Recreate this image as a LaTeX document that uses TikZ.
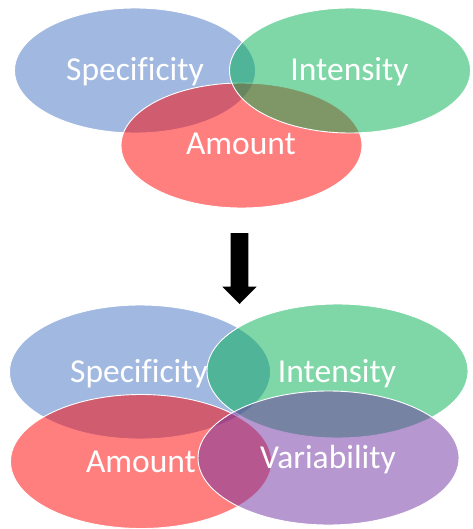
\documentclass[tikz,border=0pt]{standalone}
\usepackage{fontspec}
\setmainfont{Carlito}[Ligatures=NoCommon]
\usetikzlibrary{shapes.geometric,arrows.meta}
\definecolor{cblue}{HTML}{4472C4}
\definecolor{cgreen}{HTML}{00B050}
\definecolor{cred}{HTML}{FF0000}
\definecolor{cpurple}{HTML}{7030A0}
\tikzset{
  blob/.style={ellipse, inner sep=0pt, fill=#1, fill opacity=0.5, draw=white, draw opacity=1, line width=0.9pt},
  topblob/.style={minimum width=241pt, minimum height=125pt},
  botblob/.style={minimum width=261pt, minimum height=134pt},
  lbl/.style={text=white, font=\fontsize{33.5}{40}\selectfont, inner sep=0pt, anchor=base}
}
\begin{document}
\begin{tikzpicture}[x=1pt,y=-1pt]
\useasboundingbox (0,0) rectangle (472,529);
% top group
\node[blob=cblue, topblob] (s1) at (135,70.5) {};
\node[blob=cred, topblob] (a1) at (241.5,145.5) {};
\node[blob=cgreen, topblob] (i1) at (350,70.5) {};
\node[lbl] (ts1) at (135,81) {Specificity};
\node[lbl] (ti1) at (349.5,81) {Intensity};
\node[lbl] (ta1) at (241,155) {Amount};
% arrow
\fill (230.7,233) -- (248.3,233) -- (248.3,286.7) -- (256.7,286.7) -- (239.5,304) -- (222.3,286.7) -- (230.7,286.7) -- cycle;
% bottom group
\node[blob=cblue, botblob] (s2) at (140,372) {};
\node[blob=cgreen, botblob] (i2) at (337.5,371) {};
\node[blob=cred, botblob] (a2) at (141,461.5) {};
\node[blob=cpurple, botblob] (v2) at (328.5,458) {};
\node[lbl] (ts2) at (139,382.5) {Specificity};
\node[lbl] (ti2) at (337,382.5) {Intensity};
\node[lbl] (ta2) at (141,472.5) {Amount};
\node[lbl] (tv2) at (328,468) {Variability};
\end{tikzpicture}
\end{document}
